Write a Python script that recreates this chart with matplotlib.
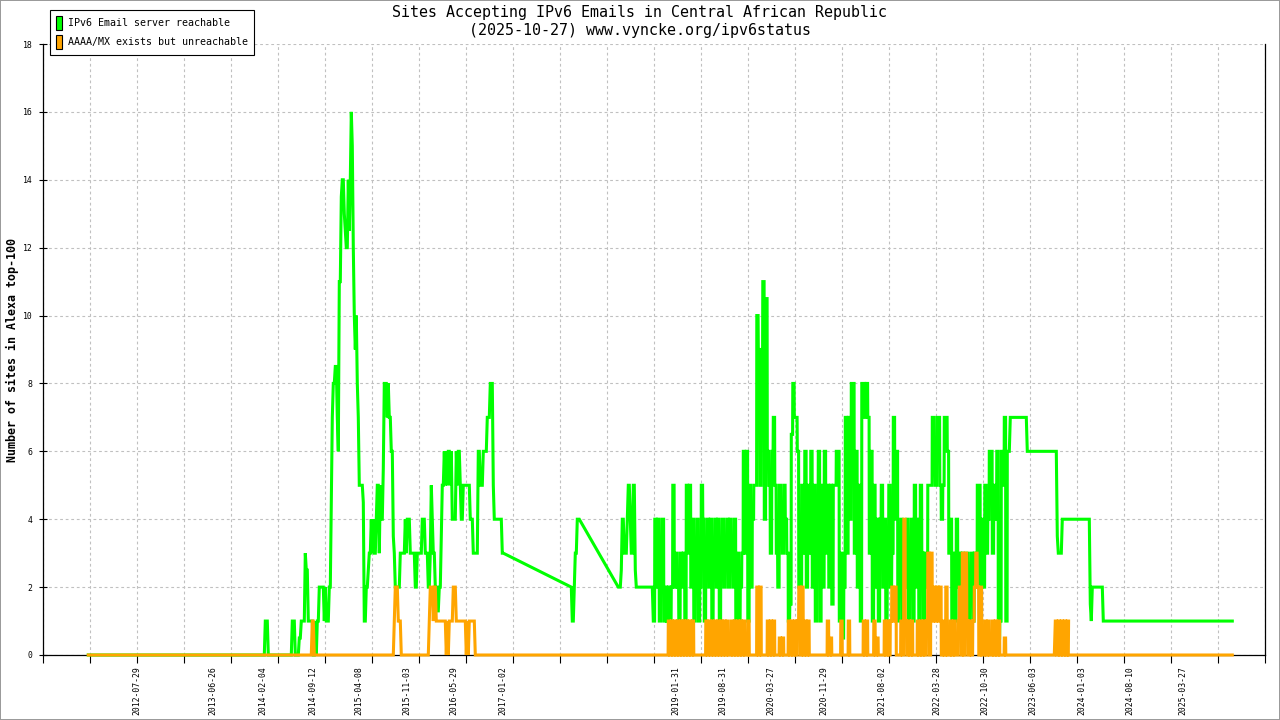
import numpy as np
import matplotlib
matplotlib.use('Agg')
import matplotlib.pyplot as plt
from matplotlib.patches import Patch, Rectangle

plt.rcParams['font.family'] = ['DejaVu Sans Mono', 'DejaVu Sans']

# x = sample index, y = number of sites
# runs: (first index, last index, value)
green_runs_a = [
    (45, 221, 0), (222, 224, 1), (225, 248, 0), (249, 251, 1), (252, 255, 0),
    (256, 257, 0.5), (258, 261, 1), (262, 262, 3), (263, 264, 2.5), (265, 269, 1),
    (270, 271, 0), (272, 272, 1), (273, 273, 0), (274, 275, 1), (276, 280, 2),
    (281, 281, 1), (282, 282, 2), (283, 285, 1), (286, 287, 2), (288, 288, 4.5),
    (289, 289, 7), (290, 291, 8), (292, 293, 8.5), (294, 294, 7), (295, 295, 6),
    (296, 297, 11), (298, 298, 13.5), (299, 300, 14), (301, 301, 13), (302, 302, 12.5),
    (303, 304, 12), (305, 305, 14), (306, 306, 12.5), (307, 307, 14), (308, 308, 16),
    (309, 309, 15), (310, 310, 12), (311, 311, 10), (312, 312, 9), (313, 313, 10),
    (314, 314, 8), (315, 315, 7), (316, 319, 5), (320, 320, 4.5), (321, 322, 1),
    (323, 324, 2), (325, 325, 2.5), (326, 327, 3), (328, 328, 4), (329, 329, 3),
    (330, 330, 4), (331, 332, 3), (333, 333, 4), (334, 335, 5), (336, 336, 3),
    (337, 337, 5), (338, 339, 4), (340, 340, 5.5), (341, 343, 8), (344, 344, 7),
    (345, 345, 8), (346, 347, 7), (348, 349, 6), (350, 350, 3.5), (351, 351, 3),
    (352, 356, 2), (357, 361, 3), (362, 362, 4), (363, 363, 3), (364, 366, 4),
    (367, 371, 3), (372, 373, 2), (374, 378, 3), (379, 381, 4), (382, 384, 3),
    (385, 386, 2), (387, 387, 3), (388, 388, 5), (389, 389, 4), (390, 391, 3),
    (392, 393, 2), (394, 395, 1.3), (396, 397, 2), (398, 398, 3.5), (399, 400, 5),
    (401, 401, 6), (402, 402, 5), (403, 403, 6), (404, 404, 5), (405, 406, 6),
    (407, 407, 5), (408, 408, 6), (409, 412, 4), (413, 413, 6), (414, 414, 5),
    (415, 416, 6), (417, 417, 5), (418, 419, 4), (420, 426, 5), (427, 429, 4),
    (430, 434, 3), (435, 436, 6), (437, 439, 5), (440, 443, 6), (444, 446, 7),
    (447, 449, 8), (450, 450, 5), (451, 458, 4), (459, 460, 3), (528, 528, 2),
    (529, 530, 1), (531, 531, 2), (532, 533, 3), (534, 536, 4), (575, 577, 2),
    (578, 578, 2.5), (579, 580, 4), (581, 583, 3), (584, 584, 4), (585, 586, 5),
    (587, 587, 4), (588, 589, 3), (590, 591, 5), (592, 592, 2.5), (593, 609, 2),
]

# daily values in the busy 2019-2023 stretch
dense_start = 610
dense_step = 1.5
green_dense = [
    1, 4, 2, 4, 1, 3, 4, 1, 2, 1,
    2, 1, 2, 5, 2, 3, 2, 1, 3, 2,
    3, 1, 5, 3, 5, 2, 4, 1, 3, 4,
    1, 2, 5, 4, 1, 3, 4, 2, 4, 1,
    3, 4, 2, 4, 1, 3, 4, 2, 3, 4,
    2, 4, 3, 2, 4, 1, 3, 1, 2, 3,
    6, 3, 6, 1, 5, 2, 4, 5, 5, 10,
    9, 5, 9, 11, 4, 10.5, 6, 5, 3, 6,
    7, 5, 3, 2, 5, 4, 3, 5, 4, 3,
    1, 1.5, 6.5, 8, 7, 7, 6, 2, 1, 5,
    3, 6, 2, 5, 3, 6, 2, 5, 1, 4,
    6, 1, 5, 2, 6, 3, 5, 2, 5, 1.5,
    5, 5, 6, 6, 1, 3, 0.5, 2, 7, 3,
    7, 4, 8, 8, 3, 6, 2, 5, 1, 8,
    8, 7, 8, 7, 3, 6, 1, 5, 2, 4,
    1, 4, 5, 2, 4, 1, 3, 5, 2, 3,
    7, 4, 6, 1, 3, 4, 1, 3, 2, 4,
    1, 3, 4, 1, 5, 2, 4, 1, 5, 3,
    1, 3, 2, 5, 5, 5, 7, 5.5, 5, 7,
    7, 5, 4, 5, 7, 7, 6, 3, 4, 1,
    3, 1, 4, 2, 3, 1, 3, 2, 1, 3,
    1, 2, 3, 1, 3, 2, 5, 5, 2, 4,
    2, 5, 3, 4, 6, 6, 3, 5, 4, 6,
    0.5, 1, 6, 5, 7, 1, 6,
]
orange_dense = [
    0, 0, 0, 0, 0, 0, 0, 0, 0, 0,
    1, 0, 1, 0, 1, 0, 1, 0, 1, 0,
    1, 0, 1, 0, 1, 0, 1, 0, 0, 0,
    0, 0, 0, 0, 0, 1, 0, 1, 0, 1,
    0, 1, 0, 1, 0, 1, 0, 1, 0, 1,
    0, 0, 1, 0, 1, 0, 1, 0, 1, 0,
    1, 0, 0, 1, 0, 0, 0, 0, 0, 2,
    0, 2, 0, 0, 0, 0, 1, 0, 1, 0,
    1, 0, 0, 0, 0.5, 0, 0.5, 0, 0, 0,
    1, 0, 1, 0, 1, 0, 1, 2, 0, 2,
    0, 1, 0, 1, 0, 0, 0, 0, 0, 0,
    0, 0, 0, 0, 0, 0, 1, 0, 0.5, 0,
    0, 0, 0, 0, 0, 1, 0, 0, 0, 0,
    1, 0, 0, 0, 0, 0, 0, 0, 0, 0,
    1, 0, 1, 0, 0, 0, 0, 1, 0, 0.5,
    0, 0, 0, 0, 1, 0, 1, 0, 1, 2,
    1, 2, 0, 0, 0, 1, 0, 4, 1, 0,
    1, 0, 1, 0, 0, 0, 1, 0, 1, 0,
    1, 0, 1, 3, 0, 3, 1, 2, 1, 2,
    1, 2, 0, 1, 0, 2, 0, 0, 1, 0,
    1, 0, 0, 1, 2, 0, 3, 0, 3, 1,
    0, 1, 0, 1, 2, 3, 2, 0, 2, 0,
    0, 1, 0, 1, 0, 0, 1, 0, 1, 0,
    1, 0, 0, 0, 0.5, 0, 0,
]

green_runs_b = [
    (965, 966, 6), (967, 983, 7), (984, 1013, 6), (1014, 1014, 3.5), (1015, 1018, 3),
    (1019, 1046, 4), (1047, 1047, 1.5), (1048, 1048, 1), (1049, 1059, 2), (1060, 1189, 1),
]

orange_runs_a = [
    (45, 268, 0), (269, 270, 1), (271, 350, 0), (351, 351, 1), (352, 354, 2),
    (355, 357, 1), (358, 385, 0), (386, 386, 1), (387, 389, 2), (390, 390, 1),
    (391, 392, 2), (393, 402, 1), (403, 403, 0), (404, 404, 1), (405, 405, 0),
    (406, 409, 1), (410, 412, 2), (413, 422, 1), (423, 423, 0), (424, 424, 1),
    (425, 425, 0), (426, 431, 1), (432, 609, 0),
]
orange_runs_b = [(965, 1011, 0)]
orange_block_start = 1012
orange_block = [1, 0, 1, 0, 1, 0, 1, 0, 1]
orange_runs_c = [(1025, 1189, 0)]

# date labels along the bottom
tick_pos = [94, 170, 220, 270, 316, 364, 411, 460, 633, 680, 728, 781, 839,
            894, 942, 990, 1039, 1087, 1140]
tick_labels = ['2012-07-29', '2013-06-26', '2014-02-04', '2014-09-12', '2015-04-08',
               '2015-11-03', '2016-05-29', '2017-01-02', '2019-01-31', '2019-08-31',
               '2020-03-27', '2020-11-29', '2021-08-02', '2022-03-28', '2022-10-30',
               '2023-06-03', '2024-01-03', '2024-08-10', '2025-03-27']


def runs_xy(runs):
    xs, ys = [], []
    for x0, x1, v in runs:
        xs.append(x0)
        ys.append(v)
        if x1 != x0:
            xs.append(x1)
            ys.append(v)
    return xs, ys


def seq_xy(start, step, vals):
    # each daily value held for one step, then an (almost) vertical jump
    xs, ys = [], []
    for i, v in enumerate(vals):
        xs += [start + i * step, start + (i + 1) * step - 0.2]
        ys += [v, v]
    return xs, ys


parts_g = [runs_xy(green_runs_a), seq_xy(dense_start, dense_step, green_dense),
           runs_xy(green_runs_b)]
parts_o = [runs_xy(orange_runs_a), seq_xy(dense_start, dense_step, orange_dense),
           runs_xy(orange_runs_b), seq_xy(orange_block_start, dense_step, orange_block),
           runs_xy(orange_runs_c)]
gx = sum([p[0] for p in parts_g], [])
gy = sum([p[1] for p in parts_g], [])
ox = sum([p[0] for p in parts_o], [])
oy = sum([p[1] for p in parts_o], [])

fig = plt.figure(figsize=(12.8, 7.2), dpi=100)
ax = fig.add_axes([43.3 / 1280, 65 / 720, 1222 / 1280, 611 / 720])

green = '#00ff00'
orange = '#ffa500'
ax.plot(gx, gy, color=green, lw=2.2, solid_joinstyle='miter', zorder=3, clip_on=False)
ax.plot(ox, oy, color=orange, lw=2.2, solid_joinstyle='miter', zorder=4, clip_on=False)

ax.set_xlim(0, 1222)
ax.set_ylim(0, 18)

ax.xaxis.remove_overlapping_locs = False
ax.set_xticks(np.arange(0, 1223, 47))
ax.tick_params(axis='x', which='major', direction='out', length=5.8, width=0.8,
               labelbottom=False)
ax.set_xticks(tick_pos, minor=True)
ax.set_xticklabels(tick_labels, minor=True, rotation=90, fontsize=5.9)
ax.tick_params(axis='x', which='minor', length=0, pad=8.4)

ax.set_yticks(range(0, 19, 2))
ax.tick_params(axis='y', direction='inout', length=5.8, width=0.8, labelsize=5.9, pad=5.0)

ax.grid(True, which='major', color='#c0c0c0', lw=0.8, linestyle=(0, (2.5, 2.5)))
ax.set_axisbelow(True)

ax.spines['top'].set_visible(False)
for s in ['left', 'bottom', 'right']:
    ax.spines[s].set_linewidth(0.9)

ax.set_ylabel('Number of sites in Alexa top-100', fontsize=8.4, fontweight='bold')
ax.yaxis.set_label_coords(-0.020, 0.5)

fig.text(0.5, 1 - 13 / 720, 'Sites Accepting IPv6 Emails in Central African Republic',
         ha='center', va='center', fontsize=10.8)
fig.text(0.5, 1 - 31 / 720, '(2025-10-27) www.vyncke.org/ipv6status',
         ha='center', va='center', fontsize=10.8)

handles = [Patch(facecolor=green, edgecolor='black', lw=0.8),
           Patch(facecolor=orange, edgecolor='black', lw=0.8)]
leg = fig.legend(handles, ['IPv6 Email server reachable', 'AAAA/MX exists but unreachable'],
                 loc='upper left', bbox_to_anchor=(50 / 1280, 1 - 10 / 720), fontsize=7.2,
                 frameon=True, fancybox=False, edgecolor='black', framealpha=1,
                 handlelength=0.6, handleheight=1.8, handletextpad=0.6,
                 labelspacing=0.45, borderpad=0.6, borderaxespad=0)
leg.get_frame().set_linewidth(0.8)

fig.add_artist(Rectangle((0, 0), 1, 1, transform=fig.transFigure, fill=False,
                         edgecolor='#999999', lw=1.4))

fig.savefig('out.png', dpi=100)
